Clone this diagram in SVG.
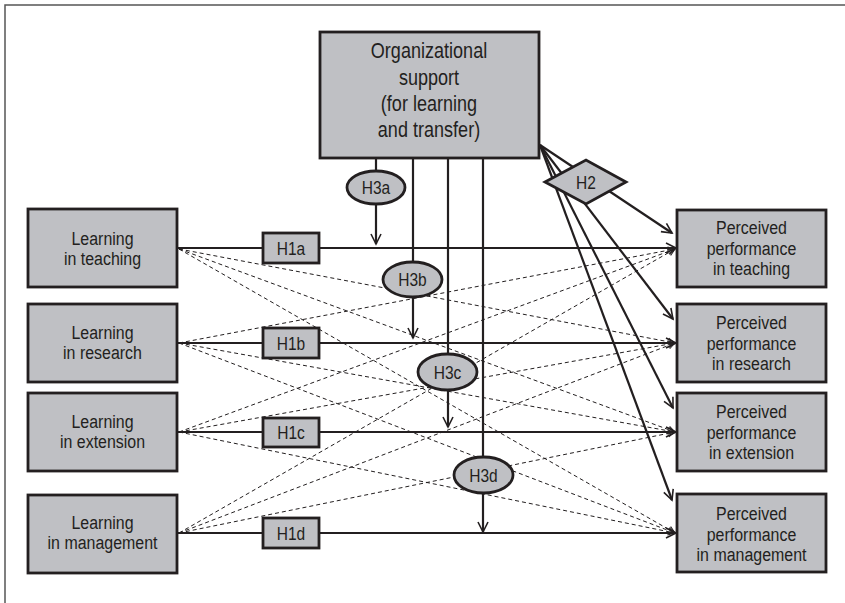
<svg xmlns="http://www.w3.org/2000/svg" width="845" height="603" viewBox="0 0 845 603">
<style>
.box{fill:#bfc0c4;stroke:#231f20;stroke-width:2.8}
.t{font-family:"Liberation Sans",Arial,sans-serif;fill:#231f20;text-anchor:middle}
.big{font-size:21.5px}
.mid{font-size:19px}
.lab{font-size:18.5px}
.solid{stroke:#231f20;stroke-width:2.2;fill:none}
.dash{stroke:#231f20;stroke-width:1;fill:none;stroke-dasharray:4 3}
</style>
<defs>
<marker id="arr" markerUnits="userSpaceOnUse" markerWidth="14" markerHeight="14" refX="11" refY="6" orient="auto" viewBox="0 0 14 12">
<path d="M1,1 L11,6 L1,11" fill="none" stroke="#231f20" stroke-width="1.6"/>
</marker>
<marker id="arrs" markerUnits="userSpaceOnUse" markerWidth="10" markerHeight="10" refX="8" refY="4.5" orient="auto" viewBox="0 0 10 9">
<path d="M1,1 L8,4.5 L1,8" fill="none" stroke="#231f20" stroke-width="1"/>
</marker>
</defs>
<rect width="845" height="603" fill="#ffffff"/>
<path d="M845,5 L5,5 L5,603" fill="none" stroke="#555" stroke-width="1.5"/>

<g id="connectors">
<g class="dash" marker-end="url(#arrs)">
<line x1="179" y1="249" x2="675" y2="343"/>
<line x1="179" y1="249" x2="675" y2="432"/>
<line x1="179" y1="249" x2="675" y2="533"/>
<line x1="179" y1="343" x2="675" y2="249"/>
<line x1="179" y1="343" x2="675" y2="432"/>
<line x1="179" y1="343" x2="675" y2="533"/>
<line x1="179" y1="432" x2="675" y2="249"/>
<line x1="179" y1="432" x2="675" y2="343"/>
<line x1="179" y1="432" x2="675" y2="533"/>
<line x1="179" y1="533" x2="675" y2="249"/>
<line x1="179" y1="533" x2="675" y2="343"/>
<line x1="179" y1="533" x2="675" y2="432"/>
</g>
<g class="solid" marker-end="url(#arr)">
<line x1="178" y1="248" x2="676" y2="248"/>
<line x1="178" y1="343" x2="676" y2="343"/>
<line x1="178" y1="432" x2="676" y2="432"/>
<line x1="178" y1="533" x2="676" y2="533"/>
</g>
<g class="solid">
<line x1="376" y1="159" x2="376" y2="171"/>
<line x1="413" y1="159" x2="413" y2="262"/>
<line x1="448" y1="159" x2="448" y2="354"/>
<line x1="483" y1="159" x2="483" y2="457"/>
</g>
<g class="solid" marker-end="url(#arr)">
<line x1="376" y1="204" x2="376" y2="244"/>
<line x1="413" y1="297" x2="413" y2="338"/>
<line x1="448" y1="390" x2="448" y2="427"/>
<line x1="483" y1="493" x2="483" y2="532"/>
</g>
<g class="solid" marker-end="url(#arr)">
<line x1="540" y1="145" x2="672" y2="233"/>
<line x1="540" y1="145" x2="673" y2="319"/>
<line x1="540" y1="145" x2="673" y2="408"/>
<line x1="540" y1="145" x2="672" y2="500"/>
</g>
</g>

<g id="org">
<rect class="box" x="320" y="32" width="219" height="126"/>
<text class="t big" transform="translate(429,58) scale(0.84,1)">Organizational</text>
<text class="t big" transform="translate(429,85) scale(0.84,1)">support</text>
<text class="t big" transform="translate(429,111) scale(0.84,1)">(for learning</text>
<text class="t big" transform="translate(429,137) scale(0.84,1)">and transfer)</text>
</g>

<g id="lt">
<rect class="box" x="28" y="209" width="149" height="78"/>
<text class="t mid" transform="translate(102.5,245) scale(0.84,1)">Learning</text>
<text class="t mid" transform="translate(102.5,265) scale(0.84,1)">in teaching</text>
</g>
<g id="lr">
<rect class="box" x="28" y="304" width="149" height="78"/>
<text class="t mid" transform="translate(102.5,339) scale(0.84,1)">Learning</text>
<text class="t mid" transform="translate(102.5,359) scale(0.84,1)">in research</text>
</g>
<g id="le">
<rect class="box" x="28" y="393" width="149" height="78"/>
<text class="t mid" transform="translate(102.5,428) scale(0.84,1)">Learning</text>
<text class="t mid" transform="translate(102.5,448) scale(0.84,1)">in extension</text>
</g>
<g id="lm">
<rect class="box" x="28" y="495" width="149" height="78"/>
<text class="t mid" transform="translate(102.5,529) scale(0.84,1)">Learning</text>
<text class="t mid" transform="translate(102.5,549) scale(0.84,1)">in management</text>
</g>

<g id="pt">
<rect class="box" x="677" y="210" width="149" height="77"/>
<text class="t mid" transform="translate(751.5,234) scale(0.84,1)">Perceived</text>
<text class="t mid" transform="translate(751.5,254.5) scale(0.84,1)">performance</text>
<text class="t mid" transform="translate(751.5,275) scale(0.84,1)">in teaching</text>
</g>
<g id="pr">
<rect class="box" x="677" y="304" width="149" height="78"/>
<text class="t mid" transform="translate(751.5,329) scale(0.84,1)">Perceived</text>
<text class="t mid" transform="translate(751.5,349.5) scale(0.84,1)">performance</text>
<text class="t mid" transform="translate(751.5,370) scale(0.84,1)">in research</text>
</g>
<g id="pe">
<rect class="box" x="677" y="393" width="149" height="78"/>
<text class="t mid" transform="translate(751.5,418) scale(0.84,1)">Perceived</text>
<text class="t mid" transform="translate(751.5,438.5) scale(0.84,1)">performance</text>
<text class="t mid" transform="translate(751.5,459) scale(0.84,1)">in extension</text>
</g>
<g id="pm">
<rect class="box" x="677" y="494" width="149" height="78"/>
<text class="t mid" transform="translate(751.5,520) scale(0.84,1)">Perceived</text>
<text class="t mid" transform="translate(751.5,540.5) scale(0.84,1)">performance</text>
<text class="t mid" transform="translate(751.5,561) scale(0.84,1)">in management</text>
</g>

<g id="h1a"><rect class="box" x="263" y="233" width="56" height="30"/><text class="t lab" transform="translate(291,255) scale(0.84,1)">H1a</text></g>
<g id="h1b"><rect class="box" x="263" y="328" width="56" height="30"/><text class="t lab" transform="translate(291,350) scale(0.84,1)">H1b</text></g>
<g id="h1c"><rect class="box" x="263" y="418" width="56" height="29"/><text class="t lab" transform="translate(291,439) scale(0.84,1)">H1c</text></g>
<g id="h1d"><rect class="box" x="263" y="518" width="56" height="30"/><text class="t lab" transform="translate(291,540) scale(0.84,1)">H1d</text></g>

<g id="h3a"><ellipse class="box" cx="376" cy="187.5" rx="29" ry="16.5"/><text class="t lab" transform="translate(376,194) scale(0.84,1)">H3a</text></g>
<g id="h3b"><ellipse class="box" cx="412.5" cy="279.5" rx="29.5" ry="17.5"/><text class="t lab" transform="translate(412.5,286) scale(0.84,1)">H3b</text></g>
<g id="h3c"><ellipse class="box" cx="447.5" cy="372" rx="29.5" ry="18"/><text class="t lab" transform="translate(447.5,378.5) scale(0.84,1)">H3c</text></g>
<g id="h3d"><ellipse class="box" cx="483.5" cy="475" rx="29.5" ry="18"/><text class="t lab" transform="translate(483.5,481.5) scale(0.84,1)">H3d</text></g>

<g id="h2"><polygon class="box" points="545,182 586,160 626,182 586,204"/><text class="t lab" transform="translate(586,189) scale(0.84,1)">H2</text></g>
</svg>
